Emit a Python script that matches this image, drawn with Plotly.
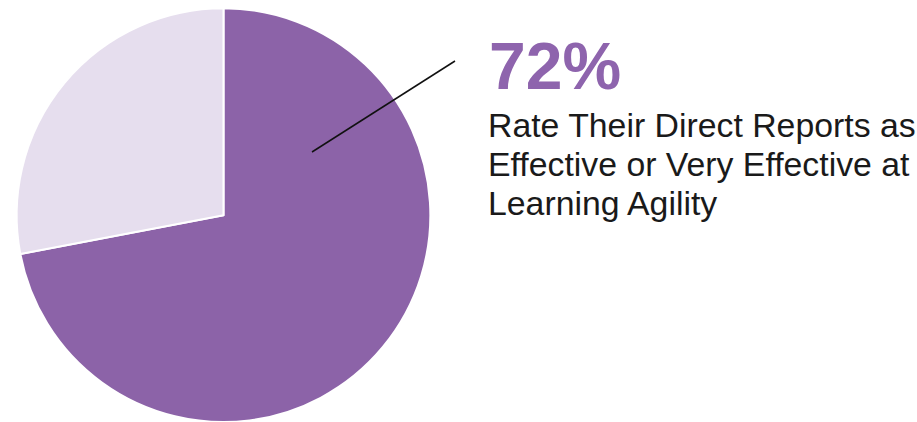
import plotly.graph_objects as go

W, H = 917, 422

# Data
labels = ["Effective or Very Effective", "Other"]
values = [72, 28]
colors = ["#8C63A8", "#E6DEEE"]
headline = "72%"
caption_lines = ["Rate Their Direct Reports as",
                 "Effective or Very Effective at",
                 "Learning Agility"]

def px(x):
    return x / W

def py(y):
    return 1 - y / H

# Pie geometry (pixels)
cx, cy, r = 223.5, 215.3, 207

fig = go.Figure()
fig.add_trace(go.Pie(
    labels=labels, values=values, sort=False, direction="clockwise", rotation=0,
    marker=dict(colors=colors, line=dict(color="white", width=2)),
    textinfo="none", hoverinfo="label+percent", showlegend=False,
    domain=dict(x=[px(cx - r), px(cx + r)], y=[max(0, py(cy + r)), py(cy - r)]),
))

# Leader line
fig.add_shape(type="line", xref="paper", yref="paper",
              x0=px(312), y0=py(152), x1=px(455), y1=py(61),
              line=dict(color="#111111", width=1.5))

font_family = "Liberation Sans, Arial, sans-serif"

fig.add_annotation(text="<b>%s</b>" % headline, xref="paper", yref="paper",
                   x=px(487), y=py(66), xanchor="left", yanchor="middle",
                   showarrow=False,
                   font=dict(family=font_family, size=66, color="#8E64AD"))

baselines = [138.3, 176.7, 216]
for line, b in zip(caption_lines, baselines):
    fig.add_annotation(text=line, xref="paper", yref="paper",
                       x=px(485.5), y=py(b - 13), xanchor="left", yanchor="middle",
                       showarrow=False,
                       font=dict(family=font_family, size=33.8, color="#1A1A1A"))

fig.update_layout(width=W, height=H, margin=dict(l=0, r=0, t=0, b=0),
                  paper_bgcolor="white", plot_bgcolor="white")

fig.write_html("out.html")
